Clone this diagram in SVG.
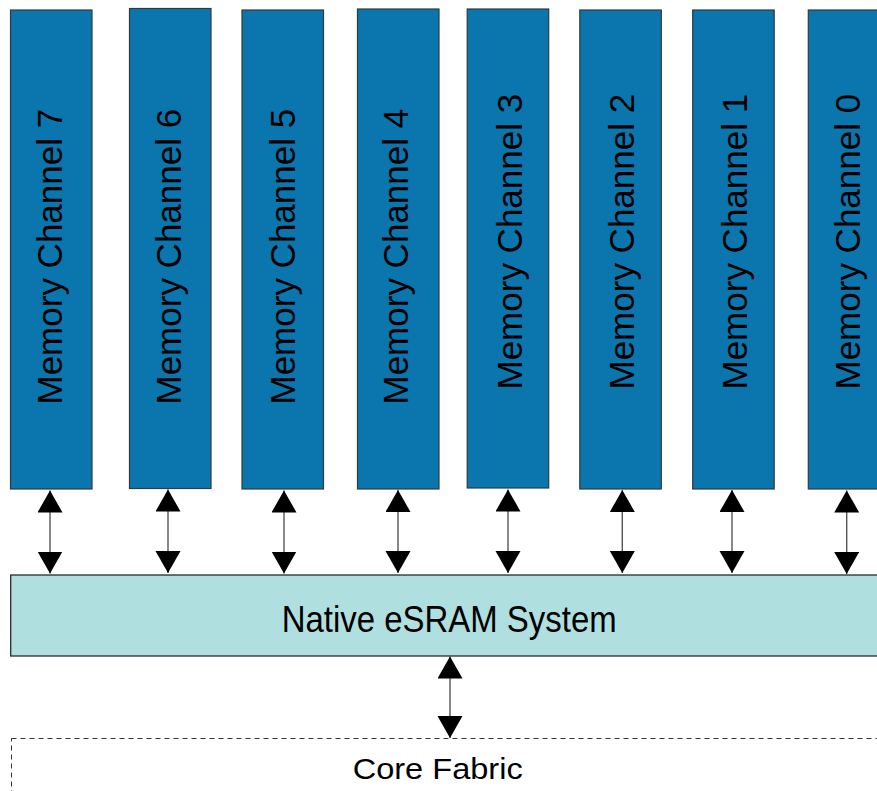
<svg xmlns="http://www.w3.org/2000/svg" width="877" height="791" viewBox="0 0 877 791">
<style>
.ch{fill:#0a76ad;stroke:#2f3a40;stroke-width:1.2}
.chl{font-family:"Liberation Sans",Arial,sans-serif;font-size:35px;fill:#000}
.es{fill:#b0dfe0;stroke:#2b2b2b;stroke-width:1.3}
.lbl{font-family:"Liberation Sans",Arial,sans-serif;fill:#000;text-anchor:middle}
.cf{fill:none;stroke:#333;stroke-width:1;stroke-dasharray:5,4}
.ar{stroke:#555;stroke-width:1.4;fill:none;marker-start:url(#ah);marker-end:url(#ah)}
</style>
<defs>
<marker id="ah" markerUnits="userSpaceOnUse" markerWidth="23" markerHeight="26" refX="22" refY="12.5" orient="auto-start-reverse" viewBox="0 0 23 26">
<path d="M0,0 L22,12.5 L0,25 z" fill="#000"/>
</marker>
</defs>
<rect width="877" height="791" fill="#fff"/>
<g id="ch7"><rect class="ch" x="10.5" y="10" width="81.5" height="479"/><text class="chl" transform="translate(61.5,404.5) rotate(-90)">Memory Channel 7</text></g>
<g id="ch6"><rect class="ch" x="129.5" y="8.5" width="81.5" height="480"/><text class="chl" transform="translate(181.2,404.5) rotate(-90)">Memory Channel 6</text></g>
<g id="ch5"><rect class="ch" x="242" y="10" width="81.5" height="479"/><text class="chl" transform="translate(294.7,404.5) rotate(-90)">Memory Channel 5</text></g>
<g id="ch4"><rect class="ch" x="357.5" y="9" width="81.5" height="480"/><text class="chl" transform="translate(408.3,404.5) rotate(-90)">Memory Channel 4</text></g>
<g id="ch3"><rect class="ch" x="467.2" y="9" width="81.5" height="479"/><text class="chl" transform="translate(521.8,389.5) rotate(-90)">Memory Channel 3</text></g>
<g id="ch2"><rect class="ch" x="579.8" y="10" width="81.5" height="479"/><text class="chl" transform="translate(633.7,389.5) rotate(-90)">Memory Channel 2</text></g>
<g id="ch1"><rect class="ch" x="692.7" y="10" width="81.5" height="479"/><text class="chl" transform="translate(746.6,389.5) rotate(-90)">Memory Channel 1</text></g>
<g id="ch0"><rect class="ch" x="808.3" y="10" width="81.5" height="479"/><text class="chl" transform="translate(859.6,389.5) rotate(-90)">Memory Channel 0</text></g>
<g id="esram"><rect class="es" x="10.7" y="575" width="880" height="81"/><text class="lbl" x="449.2" y="632" font-size="36" textLength="335" lengthAdjust="spacingAndGlyphs">Native eSRAM System</text></g>
<g id="corefabric"><rect class="cf" x="11.5" y="738.5" width="880" height="80"/><text class="lbl" x="437.7" y="779" font-size="30" textLength="170" lengthAdjust="spacingAndGlyphs">Core Fabric</text></g>
<g id="connectors">
<line class="ar" x1="50" y1="490.5" x2="50" y2="573.5"/>
<line class="ar" x1="168" y1="489.5" x2="168" y2="573"/>
<line class="ar" x1="284" y1="490.5" x2="284" y2="573.5"/>
<line class="ar" x1="398" y1="490" x2="398" y2="573"/>
<line class="ar" x1="508" y1="489.5" x2="508" y2="573"/>
<line class="ar" x1="622.3" y1="490" x2="622.3" y2="573"/>
<line class="ar" x1="732" y1="490" x2="732" y2="573"/>
<line class="ar" x1="846.7" y1="490.5" x2="846.7" y2="574"/>
<line class="ar" x1="450" y1="656.5" x2="450" y2="738"/>
</g>
</svg>
